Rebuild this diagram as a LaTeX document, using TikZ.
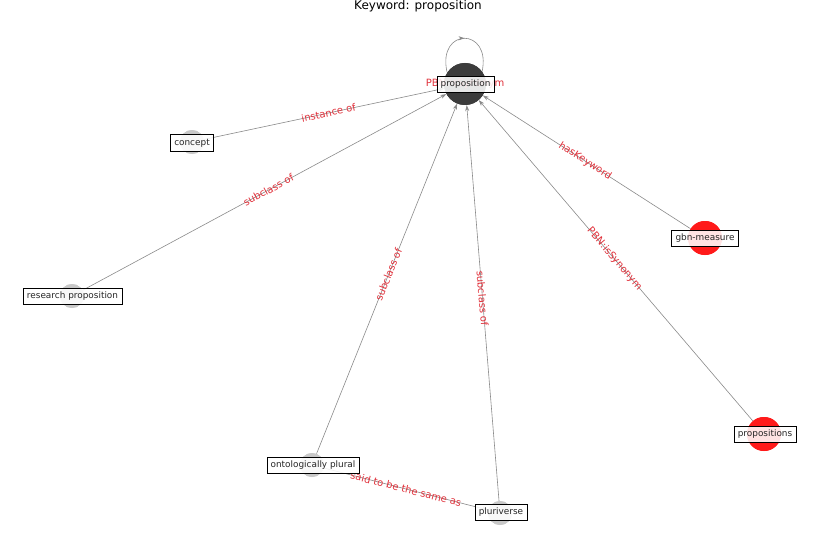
\documentclass[tikz,border=0pt]{standalone}
\usepackage{fontspec}
\setmainfont{DejaVu Sans}
\usetikzlibrary{arrows.meta,decorations.markings}
\definecolor{nodered}{HTML}{FF1A1A}
\definecolor{nodegray}{HTML}{C8C8C8}
\definecolor{nodedark}{HTML}{3C3C3C}
\definecolor{edgegray}{HTML}{8A8A8A}
\definecolor{labred}{HTML}{E0303A}
\begin{document}
\begin{tikzpicture}[x=1pt,y=-1pt,
  dot/.style={circle, inner sep=0pt, minimum size=#1, draw=none},
  lbl/.style={draw=black, line width=0.6pt, fill=white, fill opacity=0.88, text opacity=1,
    font=\fontsize{8.9}{10}\selectfont, inner xsep=3.8pt, inner ysep=0pt, minimum height=16.5pt, text=black!85},
  elabel/.style={font=\fontsize{10}{12}\selectfont, text=labred, sloped, midway, inner sep=0pt},
  edgeline/.style={draw=edgegray, line width=0.6pt, -{Stealth[length=6pt, width=4pt]}},
  loopline/.style={draw=edgegray, line width=0.6pt,
    decoration={markings, mark=at position 0.5 with {\arrow{Stealth[length=6pt, width=4pt]}}},
    postaction={decorate}}
]
\useasboundingbox (0,0) rectangle (837,559);

% title
\node[font=\fontsize{12}{14}\selectfont] (title) at (418,6) {Keyword: proposition};

% circles
\node[dot=42pt, fill=nodedark] (c0) at (465,84) {};
\node[dot=24pt, fill=nodegray] (c1) at (192,142) {};
\node[dot=24pt, fill=nodegray] (c2) at (72,296) {};
\node[dot=34pt, fill=nodered] (c3) at (705,238) {};
\node[dot=34pt, fill=nodered] (c4) at (764,434) {};
\node[dot=24pt, fill=nodegray] (c5) at (312,465) {};
\node[dot=24pt, fill=nodegray] (c6) at (500,513) {};

% edges
\draw[edgeline] (c1) -- (c0);
\draw[edgeline] (c2) -- (c0);
\draw[edgeline] (c3) -- (c0);
\draw[edgeline] (c4) -- (c0);
\draw[edgeline] (c5) -- (c0);
\draw[edgeline] (c6) -- (c0);
\draw[edgeline] (c5) -- (c6);
\coordinate (la) at (447,72);
\coordinate (lb) at (482,72);
\draw[loopline] (la) .. controls (437,27) and (492,27) .. (lb);

% redraw circles above edges
\node[dot=42pt, fill=nodedark] at (c0) {};
\node[dot=24pt, fill=nodegray] at (c1) {};
\node[dot=24pt, fill=nodegray] at (c2) {};
\node[dot=34pt, fill=nodered] at (c3) {};
\node[dot=34pt, fill=nodered] at (c4) {};
\node[dot=24pt, fill=nodegray] at (c5) {};
\node[dot=24pt, fill=nodegray] at (c6) {};

% edge labels
\path (c1.center) -- (c0.center) node[elabel] (e1) {instance of};
\path (c2.center) -- (c0.center) node[elabel] (e2) {subclass of};
\path (c3.center) -- (c0.center) node[elabel] (e3) {hasKeyword};
\path (c4.center) -- (c0.center) node[elabel] (e4) {PBN:isSynonym};
\path (c5.center) -- (c0.center) node[elabel] (e5) {subclass of};
\path (c6.center) -- (c0.center) node[elabel] (e6) {subclass of};
\path (c5.center) -- (c6.center) node[elabel] (e7) {said to be the same as};
\node[font=\fontsize{10}{12}\selectfont, text=labred, inner sep=0pt] (e8) at (465,84) {PBN:isSynonym};

% node labels
\node[lbl] (n0) at (465.5,84.5) {proposition};
\node[lbl] (n1) at (192,143) {concept};
\node[lbl] (n2) at (72.5,296.5) {research proposition};
\node[lbl] (n3) at (705,238.5) {gbn-measure};
\node[lbl] (n4) at (765,434.5) {propositions};
\node[lbl] (n5) at (313,465.5) {ontologically plural};
\node[lbl] (n6) at (501,512.5) {pluriverse};
\end{tikzpicture}
\end{document}
